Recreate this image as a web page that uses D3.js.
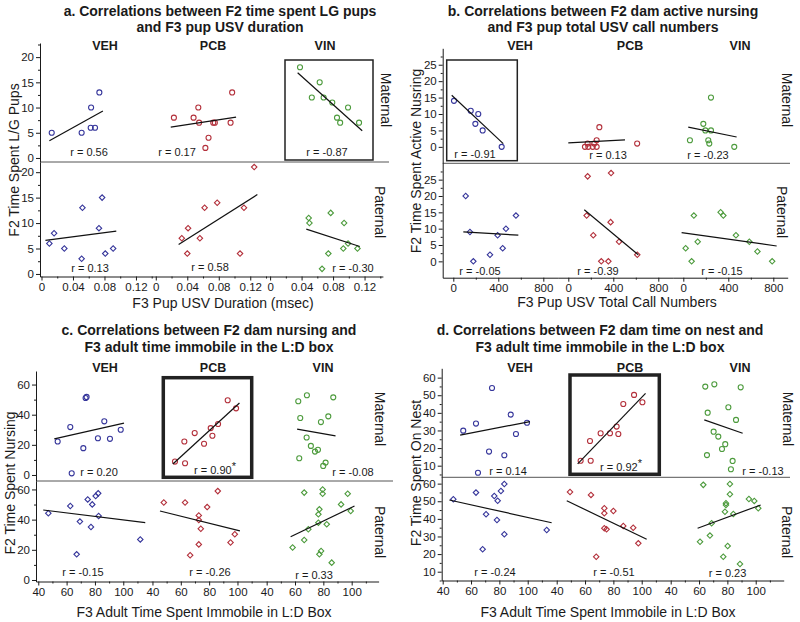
<!DOCTYPE html>
<html>
<head>
<meta charset="utf-8">
<script src="https://cdn.jsdelivr.net/npm/d3@7"></script>
<style>
  body { margin: 0; background: #fff; }
  svg { display: block; font-family: "Liberation Sans", Arial, Helvetica, sans-serif; }
</style>
</head>
<body>
<svg id="fig" width="800" height="622"></svg>
<script>
// groups (columns) and rows
const groups = ["VEH", "PCB", "VIN"];
const rowNames = ["Maternal", "Paternal"];

// ---- panel a : LG pups vs USV duration ----
const aXMajor = [0, 0.04, 0.08, 0.12], aXMinor = [0.02, 0.06, 0.10, 0.14];
const aYMajor = [0, 5, 10, 15, 20], aYMinor = [2.5, 7.5, 12.5, 17.5, 22.5];
const aMatVEH = [[0.013, 5], [0.051, 5], [0.063, 10], [0.0625, 6], [0.068, 6], [0.0735, 13]];
const aMatPCB = [[0.023, 8], [0.048, 8], [0.054, 10], [0.055, 7], [0.073, 7], [0.075, 7], [0.067, 4], [0.063, 2], [0.095, 7], [0.097, 13]];
const aMatVIN = [[0.038, 18], [0.063, 15], [0.053, 12], [0.068, 12], [0.079, 11], [0.099, 10], [0.085, 8], [0.089, 7], [0.113, 7]];
const aPatVEH = [[0.010, 6], [0.016, 8], [0.029, 5], [0.052, 13], [0.051, 3], [0.077, 15], [0.073, 9], [0.081, 4], [0.091, 5]];
const aPatPCB = [[0.033, 7], [0.040, 4], [0.041, 9], [0.056, 7], [0.062, 13], [0.078, 14], [0.107, 4], [0.112, 13], [0.125, 21]];
const aPatVIN = [[0.049, 11], [0.050, 10], [0.077, 12], [0.094, 10], [0.099, 6], [0.093, 5], [0.074, 4], [0.111, 5], [0.066, 1]];
const aFits = [[0.010, 3.4, 0.078, 9.3], [0.019, 6.1, 0.102, 8.1], [0.035, 16.9, 0.117, 5.4],
               [0.005, 6.6, 0.095, 8.4], [0.029, 5.8, 0.129, 15.6], [0.046, 8.8, 0.114, 5.4]];
const aR = ["0.56", "0.17", "-0.87", "0.13", "0.58", "-0.30"];

// ---- panel b : active nursing vs USV call numbers ----
const bXMajor = [0, 400, 800], bXMinor = [200, 600];
const bYMajor = [0, 5, 10, 15, 20, 25], bYMinor = [2.5, 7.5, 12.5, 17.5, 22.5, 27.5];
const bMatVEH = [[6, 14], [155, 11], [222, 10], [196, 7], [261, 5], [430, 0]];
const bMatPCB = [[148, 0], [172, 1], [178, 0], [217, 0], [231, 1], [252, 0], [252, 2], [276, 6], [612, 1]];
const bMatVIN = [[59, 2], [178, 7], [196, 5], [246, 5], [246, 15], [222, 2], [231, 1], [453, 0]];
const bPatVEH = [[110, 20], [148, 9], [178, 0], [326, 2], [394, 8], [439, 4], [468, 10], [557, 14]];
const bPatPCB = [[172, 26], [380, 27], [163, 14], [222, 8], [376, 12], [293, 0], [356, 0], [451, 6], [613, 2]];
const bPatVIN = [[21, 4], [94, 14], [74, 0], [128, 6], [332, 15], [356, 14], [468, 8], [587, 6], [659, 3], [790, 0]];
const bFits = [[-14, 15.7, 444, 1.0], [0, 1.2, 504, 2.1], [44, 6, 474, 3],
               [89, 9, 578, 8], [142, 15.8, 622, 2], [-15, 8.8, 830, 4.7]];
const bR = ["-0.91", "0.13", "-0.23", "-0.05", "-0.39", "-0.15"];

// ---- panel c : nursing vs adult time immobile ----
const cXMajor = [40, 60, 80, 100], cXMinor = [50, 70, 90, 110];
const cYMajor = [0, 20, 40, 60], cYMinor = [10, 30, 50];
const cMatVEH = [[53.7, 22.2], [62.6, 31.8], [71.8, 17.8], [73.4, 51.1], [74.1, 51.8], [82.1, 24.4], [86.6, 35.6], [90.6, 24], [98.2, 30], [63.6, 1.1]];
const cMatPCB = [[55.9, 8.9], [62.5, 22.2], [63, 7.8], [69.8, 27.8], [76.4, 20.7], [81.1, 31.1], [82.3, 26], [86.3, 33.8], [93.1, 49.6], [99, 44.2]];
const cMatVIN = [[62.3, 48.9], [68.4, 52.9], [87, 51.5], [63.7, 37.8], [78.3, 35.1], [83.5, 38.9], [68.2, 24.9], [71.2, 19.3], [76.2, 16.7], [74.1, 15.5], [63, 11.1], [81.6, 8.2], [79.9, 6]];
const cPatVEH = [[47.1, 44.2], [62.6, 49], [74.9, 53.4], [78.1, 50.1], [80.5, 55.6], [82.3, 57.4], [69.4, 38.7], [82.6, 42.4], [77.2, 35.1], [67.1, 17], [112, 26.9]];
const cPatPCB = [[48, 51.3], [63, 51.3], [86.1, 58.9], [78.6, 48.3], [72.7, 42.8], [72.7, 39.7], [74.1, 34], [72.7, 23.6], [66.6, 16.4], [95.1, 24.8], [98.1, 30.3]];
const cPatVIN = [[58.3, 21.5], [66.5, 57.9], [66.5, 26.5], [69.4, 33.6], [79.5, 60], [79.5, 57.2], [77.2, 46.8], [76.5, 43.5], [76.5, 38], [82.4, 36.9], [77.2, 17], [78.4, 19.2], [85.9, 11.5], [97.2, 57.2], [92.5, 50.1], [99.3, 45.7]];
const cFits = [[51.3, 24, 100.5, 34.4], [54.4, 7.3, 101.4, 47.8], [61.5, 30.4, 88.6, 26],
               [43.5, 46.4, 115.5, 38], [45.3, 45.7, 101.7, 32.5], [56.9, 28.7, 102, 49]];
const cR = ["0.20", "0.90*", "-0.08", "-0.15", "-0.26", "0.33"];

// ---- panel d : time on nest vs adult time immobile ----
const dXMajor = [40, 60, 80, 100], dXMinor = [50, 70, 90, 110];
const dYMajor = [10, 20, 30, 40, 50, 60], dYMinor = [5, 15, 25, 35, 45, 55];
const dMatVEH = [[54.5, 29.9], [63.5, 33.9], [74.8, 54.1], [88, 39], [91.7, 28], [99.5, 34.4], [72.7, 18], [83.5, 15.9], [64.9, 6]];
const dMatPCB = [[56.9, 12.8], [64, 12.8], [63.5, 24], [71, 28.4], [77.6, 28.4], [82.3, 32.2], [83.5, 28], [87, 45], [94.6, 50.2], [100.5, 46]];
const dMatVIN = [[64.4, 54.9], [70.8, 56.2], [89.4, 54.5], [66.1, 40.1], [80.7, 43.2], [86.1, 36], [70.3, 29.3], [73.6, 26.5], [78.5, 22.2], [76.2, 19.5], [65.6, 16], [83.7, 12.7], [82.5, 8]];
const dPatVEH = [[47.5, 51.1], [63.5, 54.9], [76.4, 53], [78.8, 50.3], [81.1, 55.8], [83.5, 59.8], [70.6, 42.6], [78.3, 39.4], [83.5, 31.3], [68.2, 22.7], [113.4, 33.7]];
const dPatPCB = [[49.4, 55.3], [64.2, 53.6], [73.6, 46], [73.6, 43.2], [80, 44.5], [73.6, 34.7], [75.2, 34.1], [87, 36], [94, 35], [97.6, 26.1], [67.9, 18.5]];
const dPatVIN = [[60.7, 27], [63, 59.3], [68.9, 37.5], [67.7, 30.5], [77.1, 18.5], [80.2, 24.6], [78.3, 44], [79, 47.9], [79, 48.9], [81.8, 59.8], [81.8, 54], [84.2, 42.8], [88.9, 14.4], [95.2, 51.3], [99, 50.2], [101.8, 46]];
const dFits = [[52.3, 27.4, 101.6, 35], [54.8, 11, 102.7, 51.1], [63.7, 36, 90.8, 28.4],
               [44.7, 50.7, 116.9, 37.8], [47.1, 50.3, 103.5, 28.4], [59, 34.7, 103.5, 47.9]];
const dR = ["0.14", "0.92*", "-0.13", "-0.24", "-0.51", "0.23"];

const colors = { VEH: "#36369b", PCB: "#b3303b", VIN: "#4d9b3d" };
const INK = "#1a1a1a";

// layout of each panel (pixels)
const panels = [
  {
    title: ["a. Correlations between F2 time spent LG pups", "and F3 pup USV duration"],
    titleX: 220, titleY: [16, 31.5],
    xLabel: "F3 Pup USV Duration (msec)", xLabelPos: [223, 308],
    yLabel: "F2 Time Spent L/G Pups", yLabelPos: [19, 160],
    axisX: 40, colW: 114.3, xDom: [-0.0019, 0.1433],
    rows: [{ dom: [-0.8, 22.8], range: [162, 43] }, { dom: [-0.5, 22], range: [276.5, 162] }],
    xMajor: aXMajor, xMinor: aXMinor, yMajor: aYMajor, yMinor: aYMinor,
    fmt: d => (d === 0 ? "0" : d.toFixed(2)),
    divEnd: 389, colLabelX: [105, 213, 325], colLabelY: 50,
    rowLabels: [[381, 100], [375, 212]],
    points: [aMatVEH, aMatPCB, aMatVIN, aPatVEH, aPatPCB, aPatVIN], fits: aFits, r: aR,
    rPos: [[89, 152], [177, 152], [327, 152], [90, 268], [210, 267], [353, 268]],
    box: { x: 285, y: 60, w: 88, h: 100, sw: 1.5 }
  },
  {
    title: ["b. Correlations between F2 dam active nursing", "and F3 pup total USV call numbers"],
    titleX: 603, titleY: [16, 31.5],
    xLabel: "F3 Pup USV Total Call Numbers", xLabelPos: [617, 307],
    yLabel: "F2 Time Spent Active Nusring", yLabelPos: [421, 161],
    axisX: 442.7, colW: 115, xDom: [-94.2, 928],
    rows: [{ dom: [-5, 30], range: [163.3, 48.3] }, { dom: [-5, 30], range: [277.7, 163.3] }],
    xMajor: bXMajor, xMinor: bXMinor, yMajor: bYMajor, yMinor: bYMinor,
    fmt: d => String(d),
    divEnd: 790, colLabelX: [520, 630, 740], colLabelY: 50,
    rowLabels: [[782, 100], [777, 212]],
    points: [bMatVEH, bMatPCB, bMatVIN, bPatVEH, bPatPCB, bPatVIN], fits: bFits, r: bR,
    rPos: [[475, 154], [608, 155], [708, 155], [480, 270.7], [598, 270.7], [722, 270.7]],
    box: { x: 446.7, y: 60, w: 70.6, h: 100.7, sw: 1.5 }
  },
  {
    title: ["c. Correlations between F2 dam nursing and", "F3 adult time immobile in the L:D box"],
    titleX: 209, titleY: [335, 352.3],
    xLabel: "F3 Adult Time Spent Immobile in L:D Box", xLabelPos: [204, 616.7],
    yLabel: "F2 Time Spent Nursing", yLabelPos: [14.5, 483],
    axisX: 36, colW: 114.2, xDom: [38.4, 119],
    rows: [{ dom: [-4, 69], range: [481, 371] }, { dom: [-1, 65.6], range: [581.5, 481] }],
    xMajor: cXMajor, xMinor: cXMinor, yMajor: cYMajor, yMinor: cYMinor,
    fmt: d => String(d),
    divEnd: 393, colLabelX: [105, 213, 323], colLabelY: 372,
    rowLabels: [[375, 419], [375, 532]],
    points: [cMatVEH, cMatPCB, cMatVIN, cPatVEH, cPatPCB, cPatVIN], fits: cFits, r: cR,
    rPos: [[99, 472.3], [215, 470], [353, 472], [83, 572.3], [210, 572], [314, 575.3]],
    box: { x: 163.3, y: 377.7, w: 88.4, h: 99.6, sw: 3.5 }
  },
  {
    title: ["d. Correlations between F2 dam time on nest and", "F3 adult time immobile in the L:D box"],
    titleX: 600, titleY: [335, 352.3],
    xLabel: "F3 Adult Time Spent Immobile in L:D Box", xLabelPos: [608, 616.7],
    yLabel: "F2 Time Spent On Nest", yLabelPos: [421, 473],
    axisX: 441.7, colW: 114, xDom: [39.3, 119.75],
    rows: [{ dom: [3.4, 65.3], range: [477.3, 368.3] }, { dom: [5, 63.6], range: [580.5, 477.3] }],
    xMajor: dXMajor, xMinor: dXMinor, yMajor: dYMajor, yMinor: dYMinor,
    fmt: d => String(d),
    divEnd: 790, colLabelX: [520, 630, 740], colLabelY: 372,
    rowLabels: [[783, 419], [782, 532]],
    points: [dMatVEH, dMatPCB, dMatVIN, dPatVEH, dPatPCB, dPatVIN], fits: dFits, r: dR,
    rPos: [[508, 470.7], [621, 467.3], [763, 471], [495, 571.7], [614, 571.7], [727.5, 573.3]],
    box: { x: 570, y: 375, w: 89.3, h: 99.3, sw: 3.5 }
  }
];

const svg = d3.select("#fig");

function styleAxis(g) {
  g.attr("font-family", null).attr("font-size", null);
  g.selectAll("text").attr("font-size", 11.5).attr("fill", INK);
  g.selectAll("line,path").attr("stroke", INK).attr("stroke-width", 1);
}

function inDom(vals, dom) {
  const lo = Math.min(dom[0], dom[1]), hi = Math.max(dom[0], dom[1]);
  return vals.filter(v => v >= lo && v <= hi);
}

function drawPanel(p) {
  const g = svg.append("g");
  const ys = p.rows.map(r => d3.scaleLinear().domain(r.dom).range(r.range));
  const xs = groups.map((_, k) =>
    d3.scaleLinear().domain(p.xDom).range([p.axisX + k * p.colW, p.axisX + (k + 1) * p.colW]));
  const xAxisY = p.rows[1].range[0];

  // highlight box first so marks sit on top
  g.append("rect")
    .attr("x", p.box.x).attr("y", p.box.y)
    .attr("width", p.box.w).attr("height", p.box.h)
    .attr("fill", "none").attr("stroke", "#222").attr("stroke-width", p.box.sw);

  // divider between maternal / paternal
  g.append("line")
    .attr("x1", p.axisX).attr("x2", p.divEnd)
    .attr("y1", p.rows[0].range[0]).attr("y2", p.rows[0].range[0])
    .attr("stroke", "#555").attr("stroke-width", 1);

  // y axes, one per row
  ys.forEach(y => {
    g.append("g").attr("transform", `translate(${p.axisX},0)`)
      .call(d3.axisLeft(y).tickValues(inDom(p.yMinor, y.domain())).tickSize(2).tickFormat("").tickSizeOuter(0))
      .call(a => a.select(".domain").remove())
      .call(styleAxis);
    g.append("g").attr("transform", `translate(${p.axisX},0)`)
      .call(d3.axisLeft(y).tickValues(inDom(p.yMajor, y.domain())).tickSize(4).tickPadding(2).tickSizeOuter(0))
      .call(styleAxis);
  });

  // x axes, one per column
  xs.forEach(x => {
    g.append("g").attr("transform", `translate(0,${xAxisY})`)
      .call(d3.axisBottom(x).tickValues(inDom(p.xMinor, x.domain())).tickSize(2).tickFormat("").tickSizeOuter(0))
      .call(a => a.select(".domain").remove())
      .call(styleAxis);
    g.append("g").attr("transform", `translate(0,${xAxisY})`)
      .call(d3.axisBottom(x).tickValues(p.xMajor).tickSize(4).tickPadding(2).tickSizeOuter(0).tickFormat(p.fmt))
      .call(styleAxis);
  });

  // points and fit lines
  const circle = d3.symbol(d3.symbolCircle, 20)();
  const diamond = d3.symbol(d3.symbolSquare, 15)();
  [0, 1].forEach(r => {
    groups.forEach((grp, k) => {
      const i = r * 3 + k;
      g.append("g").selectAll("path")
        .data(p.points[i])
        .join("path")
        .attr("d", r === 0 ? circle : diamond)
        .attr("transform", d => `translate(${xs[k](d[0])},${ys[r](d[1])})` + (r === 1 ? " rotate(45)" : ""))
        .attr("fill", "none")
        .attr("stroke", colors[grp])
        .attr("stroke-width", 1.1);

      const f = p.fits[i];
      g.append("line")
        .attr("x1", xs[k](f[0])).attr("y1", ys[r](f[1]))
        .attr("x2", xs[k](f[2])).attr("y2", ys[r](f[3]))
        .attr("stroke", "#111").attr("stroke-width", 1.2);

      const lab = p.r[i];
      const t = g.append("text")
        .attr("x", p.rPos[i][0]).attr("y", p.rPos[i][1] + 4)
        .attr("text-anchor", "middle").attr("font-size", 11).attr("fill", INK)
        .text("r = " + lab.replace("*", ""));
      if (lab.endsWith("*")) {
        t.append("tspan").attr("dy", -4).attr("font-size", 11).text("*");
      }
    });
  });

  // titles and labels
  p.title.forEach((line, j) => {
    g.append("text")
      .attr("x", p.titleX).attr("y", p.titleY[j])
      .attr("text-anchor", "middle").attr("font-size", 14).attr("font-weight", "bold")
      .attr("fill", INK).text(line);
  });
  groups.forEach((grp, k) => {
    g.append("text")
      .attr("x", p.colLabelX[k]).attr("y", p.colLabelY)
      .attr("text-anchor", "middle").attr("font-size", 12.5).attr("font-weight", "bold")
      .attr("fill", INK).text(grp);
  });
  rowNames.forEach((nm, r) => {
    const [x, y] = p.rowLabels[r];
    g.append("text")
      .attr("transform", `translate(${x},${y}) rotate(90)`)
      .attr("text-anchor", "middle").attr("font-size", 14).attr("fill", INK).text(nm);
  });
  g.append("text")
    .attr("x", p.xLabelPos[0]).attr("y", p.xLabelPos[1])
    .attr("text-anchor", "middle").attr("font-size", 14).attr("fill", INK).text(p.xLabel);
  g.append("text")
    .attr("transform", `translate(${p.yLabelPos[0]},${p.yLabelPos[1]}) rotate(-90)`)
    .attr("text-anchor", "middle").attr("font-size", 14).attr("fill", INK).text(p.yLabel);
}

panels.forEach(drawPanel);
</script>
</body>
</html>
